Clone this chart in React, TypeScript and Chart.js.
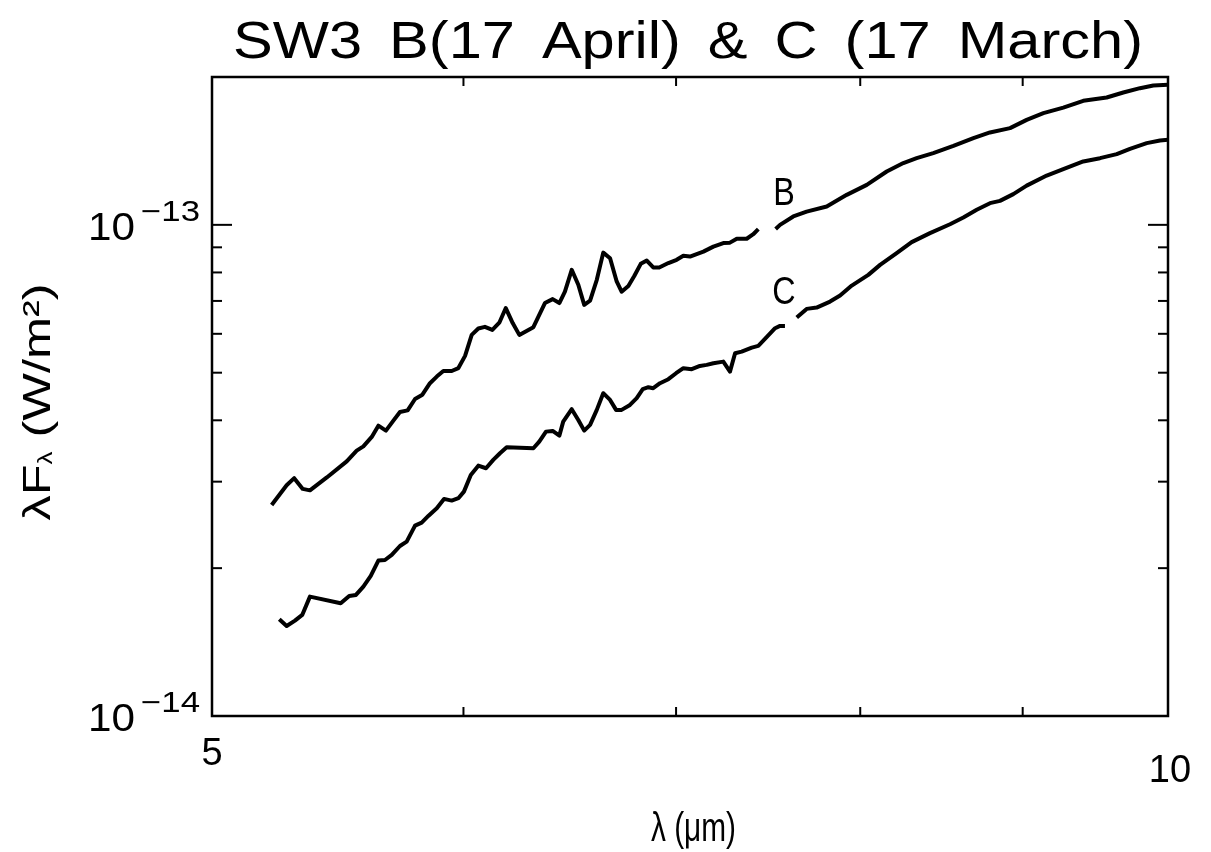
import React, { useEffect, useRef } from 'react';
import { Chart, registerables } from 'chart.js';

Chart.register(...registerables);

// ---------- text ----------
const titleText = 'SW3 B(17 April) & C (17 March)';
const xTitleText = 'λ (μm)';
const yTitleMain = 'λF';
const yTitleSub = 'λ';
const yTitleRest = ' (W/m²)';

// ---------- axes ----------
const xMin = 5;
const xMax = 10;
const yMin = 1e-14;
const yMax = 2e-13;
const xTickValues = [5, 10];
const xTickLabels = ['5', '10'];
const xMinorTicks = [6, 7, 8, 9];
const yTickValues = [1e-14, 1e-13];
const yTickBases = ['10', '10'];
const yTickExps = ['−14', '−13'];
const yMinorTicks = [2e-14, 3e-14, 4e-14, 5e-14, 6e-14, 7e-14, 8e-14, 9e-14, 2e-13];

// ---------- series B (17 April) ----------
const bShortWave = [5.221, 5.278, 5.307, 5.340, 5.368, 5.434, 5.513, 5.553, 5.580, 5.614, 5.641, 5.672, 5.702, 5.730, 5.762, 5.793, 5.824, 5.856, 5.885, 5.913, 5.949, 5.978, 6.007, 6.036, 6.065, 6.094, 6.127, 6.158, 6.187, 6.218, 6.248, 6.312, 6.365, 6.401, 6.432, 6.458, 6.490, 6.521, 6.549, 6.577, 6.609, 6.640, 6.673, 6.705, 6.729, 6.762, 6.791, 6.823, 6.853, 6.885, 6.915, 6.961, 7.003, 7.037, 7.071, 7.140, 7.192, 7.244, 7.279, 7.315, 7.368, 7.403, 7.430];
const bShortFlux = [2.69e-14, 2.95e-14, 3.05e-14, 2.90e-14, 2.88e-14, 3.06e-14, 3.30e-14, 3.47e-14, 3.54e-14, 3.70e-14, 3.90e-14, 3.81e-14, 3.99e-14, 4.16e-14, 4.19e-14, 4.42e-14, 4.51e-14, 4.76e-14, 4.91e-14, 5.04e-14, 5.04e-14, 5.11e-14, 5.41e-14, 5.97e-14, 6.15e-14, 6.20e-14, 6.11e-14, 6.32e-14, 6.77e-14, 6.31e-14, 5.97e-14, 6.19e-14, 6.93e-14, 7.06e-14, 6.93e-14, 7.31e-14, 8.10e-14, 7.55e-14, 6.87e-14, 7.01e-14, 7.73e-14, 8.78e-14, 8.55e-14, 7.67e-14, 7.31e-14, 7.51e-14, 7.87e-14, 8.33e-14, 8.46e-14, 8.19e-14, 8.19e-14, 8.36e-14, 8.49e-14, 8.65e-14, 8.62e-14, 8.82e-14, 9.03e-14, 9.18e-14, 9.20e-14, 9.37e-14, 9.37e-14, 9.57e-14, 9.80e-14];
const bLongWave = [7.524, 7.548, 7.621, 7.695, 7.808, 7.922, 8.038, 8.155, 8.254, 8.334, 8.435, 8.559, 8.684, 8.789, 8.918, 9.026, 9.136, 9.269, 9.404, 9.565, 9.681, 9.799, 9.894, 10.0];
const bLongFlux = [9.81e-14, 1.000e-13, 1.040e-13, 1.064e-13, 1.090e-13, 1.151e-13, 1.206e-13, 1.284e-13, 1.336e-13, 1.367e-13, 1.400e-13, 1.448e-13, 1.502e-13, 1.542e-13, 1.574e-13, 1.636e-13, 1.688e-13, 1.733e-13, 1.789e-13, 1.817e-13, 1.860e-13, 1.898e-13, 1.922e-13, 1.928e-13];

// ---------- series C (17 March) ----------
const cShortWave = [5.250, 5.278, 5.310, 5.338, 5.368, 5.489, 5.523, 5.550, 5.580, 5.610, 5.641, 5.668, 5.696, 5.730, 5.758, 5.793, 5.821, 5.849, 5.885, 5.916, 5.949, 5.978, 6.002, 6.032, 6.065, 6.099, 6.131, 6.161, 6.191, 6.312, 6.339, 6.370, 6.401, 6.432, 6.450, 6.490, 6.521, 6.549, 6.577, 6.609, 6.640, 6.673, 6.702, 6.729, 6.770, 6.803, 6.833, 6.861, 6.885, 6.919, 6.961, 7.000, 7.037, 7.080, 7.122, 7.157, 7.192, 7.244, 7.279, 7.306, 7.341, 7.395, 7.430, 7.475, 7.521, 7.548, 7.575];
const cShortFlux = [1.574e-14, 1.525e-14, 1.564e-14, 1.606e-14, 1.750e-14, 1.696e-14, 1.756e-14, 1.764e-14, 1.834e-14, 1.928e-14, 2.072e-14, 2.078e-14, 2.128e-14, 2.219e-14, 2.265e-14, 2.441e-14, 2.476e-14, 2.555e-14, 2.649e-14, 2.767e-14, 2.745e-14, 2.776e-14, 2.863e-14, 3.096e-14, 3.234e-14, 3.195e-14, 3.322e-14, 3.428e-14, 3.526e-14, 3.509e-14, 3.620e-14, 3.793e-14, 3.806e-14, 3.723e-14, 3.975e-14, 4.214e-14, 4.007e-14, 3.811e-14, 3.914e-14, 4.200e-14, 4.542e-14, 4.401e-14, 4.200e-14, 4.200e-14, 4.299e-14, 4.437e-14, 4.628e-14, 4.671e-14, 4.650e-14, 4.760e-14, 4.850e-14, 4.988e-14, 5.107e-14, 5.083e-14, 5.162e-14, 5.187e-14, 5.228e-14, 5.267e-14, 5.026e-14, 5.479e-14, 5.520e-14, 5.625e-14, 5.670e-14, 5.906e-14, 6.160e-14, 6.227e-14, 6.227e-14];
const cLongWave = [7.640, 7.695, 7.751, 7.827, 7.884, 7.951, 8.047, 8.116, 8.214, 8.304, 8.415, 8.538, 8.621, 8.705, 8.789, 8.853, 8.939, 9.026, 9.158, 9.269, 9.404, 9.519, 9.635, 9.728, 9.847, 9.942, 10.0];
const cLongFlux = [6.474e-14, 6.744e-14, 6.785e-14, 6.979e-14, 7.178e-14, 7.523e-14, 7.910e-14, 8.290e-14, 8.758e-14, 9.221e-14, 9.619e-14, 1.003e-13, 1.035e-13, 1.073e-13, 1.107e-13, 1.119e-13, 1.155e-13, 1.202e-13, 1.260e-13, 1.299e-13, 1.346e-13, 1.367e-13, 1.393e-13, 1.428e-13, 1.467e-13, 1.485e-13, 1.490e-13];

// ---------- curve labels ----------
const curveLabels = ['B', 'C'];
const curveLabelWave = [7.57, 7.57];
const curveLabelFlux = [1.17e-13, 7.37e-14];

const FONT = '"Liberation Sans", Arial, sans-serif';

function zip(xs: number[], ys: number[]) {
  return xs.map((x, i) => ({ x, y: ys[i] }));
}

// draw words with fixed gaps, stretched horizontally so the whole line fills `width`
function spreadWords(ctx: CanvasRenderingContext2D, text: string, left: number, width: number, y: number, gap: number) {
  const words = text.split(' ');
  const ws = words.map((w) => ctx.measureText(w).width);
  const total = ws.reduce((a, b) => a + b, 0);
  const sx = (width - gap * (words.length - 1)) / total;
  ctx.textAlign = 'left';
  let cx = left;
  words.forEach((w, i) => {
    ctx.save();
    ctx.translate(cx, y);
    ctx.scale(sx, 1);
    ctx.fillText(w, 0, 0);
    ctx.restore();
    cx += ws[i] * sx + gap;
  });
}

// draw text stretched/compressed to exact width, left edge at x
function drawWidth(ctx: CanvasRenderingContext2D, text: string, x: number, y: number, width: number) {
  const w = ctx.measureText(text).width;
  ctx.save();
  ctx.translate(x, y);
  ctx.scale(width / w, 1);
  ctx.textAlign = 'left';
  ctx.fillText(text, 0, 0);
  ctx.restore();
}

const framePlugin = {
  id: 'idlFrame',
  afterDraw(chart: any) {
    const ctx: CanvasRenderingContext2D = chart.ctx;
    const { left, right, top, bottom } = chart.chartArea;
    const xs = chart.scales.x;
    const ys = chart.scales.y;
    ctx.save();
    ctx.strokeStyle = '#000';
    ctx.fillStyle = '#000';
    ctx.lineWidth = 2.5;
    ctx.lineCap = 'butt';
    ctx.strokeRect(left, top, right - left, bottom - top);

    const seg = (x1: number, y1: number, x2: number, y2: number) => {
      ctx.beginPath();
      ctx.moveTo(x1, y1);
      ctx.lineTo(x2, y2);
      ctx.stroke();
    };
    ctx.lineWidth = 2;
    xMinorTicks.forEach((v) => {
      const px = xs.getPixelForValue(v);
      seg(px, bottom, px, bottom - 9);
      seg(px, top, px, top + 9);
    });
    yMinorTicks.forEach((v) => {
      const py = ys.getPixelForValue(v);
      seg(left, py, left + 10, py);
      seg(right, py, right - 10, py);
    });
    yTickValues.forEach((v) => {
      const py = ys.getPixelForValue(v);
      seg(left, py, left + 20, py);
      seg(right, py, right - 20, py);
    });

    // x tick labels
    ctx.textBaseline = 'alphabetic';
    ctx.font = `38px ${FONT}`;
    ctx.textAlign = 'center';
    const xLabelBaselines = [765, 782];
    xTickValues.forEach((v, i) => {
      const px = xs.getPixelForValue(v);
      ctx.fillText(xTickLabels[i], px + (i === 1 ? 2 : 0), xLabelBaselines[i]);
    });

    // y tick labels 10^n
    yTickValues.forEach((v, i) => {
      const py = ys.getPixelForValue(v);
      ctx.font = `29px ${FONT}`;
      drawWidth(ctx, yTickExps[i], 141, py - 4, 59);
      ctx.font = `39px ${FONT}`;
      drawWidth(ctx, yTickBases[i], 88, py + 15, 47);
    });

    // title
    ctx.font = `52px ${FONT}`;
    spreadWords(ctx, titleText, 233, 910, 58, 27);

    // x title
    ctx.font = `40px ${FONT}`;
    drawWidth(ctx, xTitleText, 651, 841, 85);

    // y title (rotated)
    ctx.save();
    ctx.translate(50, 402);
    ctx.rotate(-Math.PI / 2);
    ctx.textAlign = 'left';
    ctx.font = `39px ${FONT}`;
    const w1 = ctx.measureText(yTitleMain).width;
    const w3 = ctx.measureText(yTitleRest).width;
    ctx.font = `20px ${FONT}`;
    const w2 = ctx.measureText(yTitleSub).width;
    const total = w1 + w2 + w3;
    const target = 237;
    const sx = target / total;
    ctx.scale(sx, 1);
    let cx = -total / 2;
    ctx.font = `39px ${FONT}`;
    ctx.fillText(yTitleMain, cx, 0);
    cx += w1;
    ctx.font = `20px ${FONT}`;
    ctx.fillText(yTitleSub, cx, 2);
    cx += w2;
    ctx.font = `39px ${FONT}`;
    ctx.fillText(yTitleRest, cx, 0);
    ctx.restore();

    // curve labels
    ctx.font = `38px ${FONT}`;
    ctx.textAlign = 'center';
    curveLabels.forEach((t, i) => {
      const px = xs.getPixelForValue(curveLabelWave[i]);
      const py = ys.getPixelForValue(curveLabelFlux[i]);
      ctx.save();
      ctx.translate(px, py + 14);
      ctx.scale(0.85, 1);
      ctx.fillText(t, 0, 0);
      ctx.restore();
    });
    ctx.restore();
  },
};

export default function App() {
  const ref = useRef<HTMLCanvasElement>(null);
  useEffect(() => {
    const canvas = ref.current;
    if (!canvas) return;
    const lineStyle = {
      borderColor: '#000',
      borderWidth: 4,
      pointRadius: 0,
      fill: false,
      tension: 0,
      borderJoinStyle: 'round' as const,
    };
    const chart = new Chart(canvas, {
      type: 'line',
      data: {
        datasets: [
          { label: 'B short', data: zip(bShortWave, bShortFlux), ...lineStyle },
          { label: 'B long', data: zip(bLongWave, bLongFlux), ...lineStyle },
          { label: 'C short', data: zip(cShortWave, cShortFlux), ...lineStyle },
          { label: 'C long', data: zip(cLongWave, cLongFlux), ...lineStyle },
        ],
      },
      options: {
        responsive: false,
        animation: false,
        devicePixelRatio: 1,
        layout: { padding: { left: 212, right: 43, top: 77, bottom: 136 } },
        plugins: {
          legend: { display: false },
          tooltip: { enabled: false },
          title: { display: false },
        },
        scales: {
          x: { type: 'logarithmic', min: xMin, max: xMax, display: false },
          y: { type: 'logarithmic', min: yMin, max: yMax, display: false },
        },
      },
      plugins: [framePlugin],
    });
    return () => chart.destroy();
  }, []);
  return (
    <div style={{ position: 'fixed', left: 0, top: 0, width: 1211, height: 852, background: '#fff' }}>
      <canvas ref={ref} width={1211} height={852} style={{ display: 'block' }} />
    </div>
  );
}
